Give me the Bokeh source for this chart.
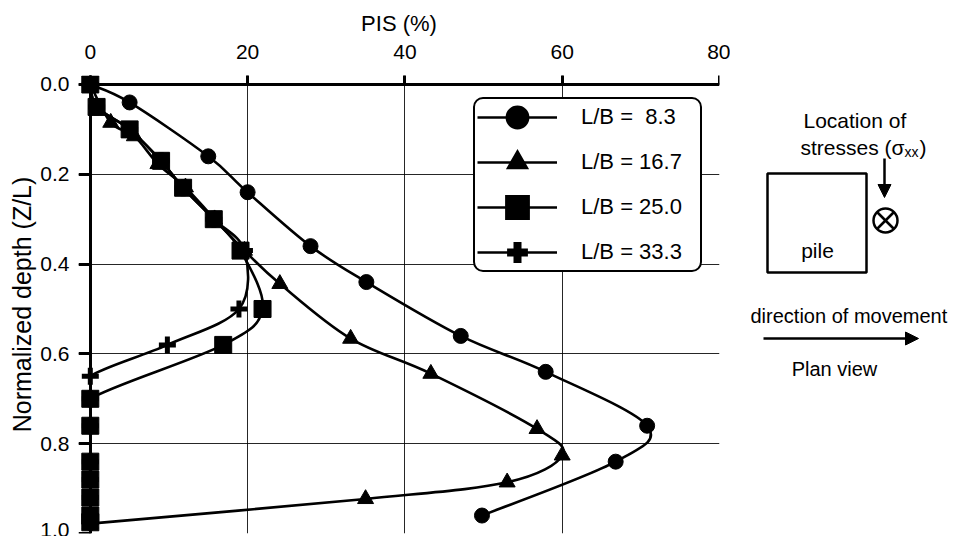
import numpy as np
from bokeh.plotting import figure
from bokeh.layouts import row
from bokeh.models import (Range1d, FixedTicker, NumeralTickFormatter, Legend, LegendItem,
                          ColumnDataSource, Arrow, NormalHead, LinearAxis,
                          CustomJSTickFormatter)
from bokeh.core.properties import value
from bokeh.embed import file_html
from bokeh.resources import INLINE

FONT = "Liberation Sans"

# PIS (%) versus normalized depth Z/L for four pile slenderness ratios
labels = ["L/B =\u00a0\u00a08.3", "L/B = 16.7", "L/B = 25.0", "L/B = 33.3"]

pis_lb83 = [0, 5.0, 15.0, 20.0, 28.0, 35.1, 47.1, 57.9, 70.8, 66.8, 49.8]
depth_lb83 = [0, 0.04, 0.16, 0.24, 0.36, 0.44, 0.56, 0.64, 0.76, 0.84, 0.96]

pis_lb167 = [0, 2.6, 5.6, 8.6, 12.1, 15.8, 19.6, 24.1, 33.1, 43.3, 56.8, 60.0, 53.0, 35.0, 0]
depth_lb167 = [0, 0.085, 0.115, 0.177, 0.229, 0.30, 0.37, 0.444, 0.566, 0.644, 0.767,
               0.826, 0.886, 0.923, 0.978]

pis_lb250 = [0, 0.8, 5.0, 9.0, 11.8, 15.7, 19.1, 21.9, 16.9, 0, 0, 0, 0, 0, 0, 0]
depth_lb250 = [0, 0.05, 0.10, 0.17, 0.23, 0.30, 0.37, 0.50, 0.58, 0.70, 0.76, 0.84,
               0.88, 0.92, 0.96, 0.975]

pis_lb333 = [0, 0.8, 5.0, 9.0, 11.8, 15.7, 19.6, 18.9, 9.8, 0, 0, 0, 0, 0, 0, 0, 0]
depth_lb333 = [0, 0.05, 0.10, 0.17, 0.23, 0.30, 0.37, 0.50, 0.58, 0.65, 0.70, 0.76,
               0.84, 0.88, 0.92, 0.96, 0.975]

x_ticks = [0, 20, 40, 60, 80]
y_ticks = [0.0, 0.2, 0.4, 0.6, 0.8, 1.0]


def smooth_source(xs, ys, xmin=0.0):
    """Catmull-Rom segments through the points, as cubic Bezier pieces.
    Control points are kept at x >= xmin so curves never cross the depth axis."""
    x = np.asarray(xs, float)
    y = np.asarray(ys, float)
    n = len(x)
    xp = np.concatenate([[x[0]], x, [x[-1]]])
    yp = np.concatenate([[y[0]], y, [y[-1]]])
    cx0 = np.maximum(x[:-1] + (xp[2:n + 1] - xp[0:n - 1]) / 6, xmin)
    cx1 = np.maximum(x[1:] - (xp[3:n + 2] - xp[1:n]) / 6, xmin)
    return ColumnDataSource(dict(
        x0=x[:-1], y0=y[:-1], x1=x[1:], y1=y[1:],
        cx0=cx0, cy0=y[:-1] + (yp[2:n + 1] - yp[0:n - 1]) / 6,
        cx1=cx1, cy1=y[1:] - (yp[3:n + 2] - yp[1:n]) / 6,
    ))


# a little room left of / above the axes so markers sitting on them stay whole
p = figure(width=730, height=536, x_range=Range1d(-1.5, 80), y_range=Range1d(1.0, -0.02),
           x_axis_location="above", output_backend="svg", toolbar_location=None,
           title=None, min_border_left=78, min_border_top=75, min_border_right=11,
           min_border_bottom=3)
p.background_fill_color = "white"
p.border_fill_color = "white"
p.outline_line_color = None

# border axes carry the tick labels and titles only
p.xaxis.ticker = FixedTicker(ticks=x_ticks)
p.yaxis.ticker = FixedTicker(ticks=y_ticks)
p.yaxis.formatter = NumeralTickFormatter(format="0.0")
p.xaxis.axis_label = "PIS (%)"
p.yaxis.axis_label = "Normalized depth (Z/L)"
for ax in (p.xaxis, p.yaxis):
    ax.axis_line_color = None
    ax.major_tick_line_color = None
    ax.minor_tick_line_color = None
    ax.major_tick_out = 0
    ax.major_tick_in = 0
    ax.major_label_text_font = FONT
    ax.major_label_text_font_size = "21px"
    ax.major_label_text_color = "black"
    ax.axis_label_text_font = FONT
    ax.axis_label_text_font_style = "normal"
    ax.axis_label_text_color = "black"
p.xaxis.major_label_standoff = 17
p.xaxis.axis_label_text_font_size = "22px"
p.xaxis.axis_label_standoff = 6
p.yaxis.major_label_standoff = 9
p.yaxis.axis_label_text_font_size = "25px"
p.yaxis.axis_label_standoff = 1

# heavy axis lines with outward ticks, drawn through the origin
blank = CustomJSTickFormatter(code="return ''")
for loc, ticks, tick_out in (("above", x_ticks, 10), ("left", y_ticks, 12)):
    ax = LinearAxis(fixed_location=0, ticker=FixedTicker(ticks=ticks), formatter=blank,
                    axis_line_width=3, axis_line_color="black", major_tick_line_width=3,
                    major_tick_line_color="black", major_tick_in=0, major_tick_out=tick_out,
                    minor_tick_out=0, minor_tick_in=0)
    p.add_layout(ax, loc)

p.xgrid.ticker = FixedTicker(ticks=x_ticks)
p.ygrid.ticker = FixedTicker(ticks=y_ticks)
p.grid.grid_line_color = "black"
p.grid.grid_line_width = 1
p.grid.grid_line_alpha = 0.85

series = [
    (pis_lb83, depth_lb83, "circle", 15, 1),
    (pis_lb167, depth_lb167, "triangle", 16, 1),
    (pis_lb250, depth_lb250, "square", 17, 1),
    (pis_lb333, depth_lb333, "cross", 17, 5),
]

# smoothed curves first, markers on top
for xs, ys, _, _, _ in series:
    p.bezier(x0="x0", y0="y0", x1="x1", y1="y1", cx0="cx0", cy0="cy0", cx1="cx1",
             cy1="cy1", source=smooth_source(xs, ys), line_color="black", line_width=2.6)
for xs, ys, marker, size, lw in series:
    p.scatter(x=xs, y=ys, marker=marker, size=size, fill_color="black",
              line_color="black", line_width=lw)

# legend keys: long line with an enlarged marker (key renderers hold no visible data)
legend_marker_style = {
    "circle": dict(line_width=11, line_join="miter"),
    "triangle": dict(line_width=6, line_join="miter"),
    "square": dict(line_width=12, line_join="miter"),
    "cross": dict(line_width=8, line_cap="square"),
}
items = []
for (xs, ys, marker, size, lw), lab in zip(series, labels):
    key_src = ColumnDataSource(dict(x=[float("nan")], y=[float("nan")]))
    key_line = p.line(x="x", y="y", source=key_src, line_color="black", line_width=2.6)
    key_mark = p.scatter(x="x", y="y", source=key_src, marker=marker, fill_color="black",
                         line_color="black", **legend_marker_style[marker])
    items.append(LegendItem(label=lab, renderers=[key_line, key_mark]))

legend = Legend(items=items, location=(395, 261), glyph_width=80, glyph_height=32,
                spacing=13, padding=2, label_standoff=24, label_width=117, margin=0,
                label_text_font=FONT, label_text_font_size="22px",
                label_text_color="black", border_line_color="black",
                border_line_width=2, border_line_alpha=1.0,
                background_fill_color="white", background_fill_alpha=1.0)
if "border_radius" in Legend.properties():
    legend.border_radius = 10
p.add_layout(legend)

# plan-view sketch on the right; its frame lines up with the chart frame (y 75..533)
side = figure(width=239, height=536, x_range=Range1d(730, 969), y_range=Range1d(533, 75),
              output_backend="svg", toolbar_location=None, title=None,
              x_axis_type=None, y_axis_type=None, min_border_left=0, min_border_right=0,
              min_border_top=75, min_border_bottom=3)
side.outline_line_color = None
side.background_fill_color = "white"
side.border_fill_color = "white"
side.grid.visible = False

txt = dict(text_font=value(FONT), text_color="black", text_baseline="alphabetic")
side.text(x=[803], y=[120], text=["Location of"], text_font_size="21px",
          text_align="left", **txt)
side.text(x=[904], y=[147], text=["stresses (\u03c3"], text_font_size="21px",
          text_align="right", **txt)
side.text(x=[904], y=[151], text=["xx"], text_font_size="14px", text_align="left", **txt)
side.text(x=[919], y=[147], text=[")"], text_font_size="21px", text_align="left", **txt)
side.text(x=[817], y=[250], text=["pile"], text_font_size="21px", text_align="center", **txt)
side.text(x=[750], y=[315], text=["direction of movement"], text_font_size="20px",
          text_align="left", **txt)
side.text(x=[834], y=[368], text=["Plan view"], text_font_size="20px",
          text_align="center", **txt)

side.quad(left=[767], right=[866], top=[173], bottom=[272], fill_color=None,
          line_color="black", line_width=2.5)
side.circle(x=[885], y=[220], radius=12, fill_color=None, line_color="black",
            line_width=2.5)
side.segment(x0=[876.5, 876.5], y0=[211.5, 228.5], x1=[893.5, 893.5], y1=[228.5, 211.5],
             line_color="black", line_width=2.5)
side.add_layout(Arrow(x_start=884, y_start=158, x_end=884, y_end=197, line_width=2.5,
                      end=NormalHead(size=13, fill_color="black", line_color="black")))
side.add_layout(Arrow(x_start=763, y_start=338, x_end=918, y_end=338, line_width=2.5,
                      end=NormalHead(size=13, fill_color="black", line_color="black")))

layout = row(p, side)
open("out.html", "w").write(file_html(layout, INLINE))
